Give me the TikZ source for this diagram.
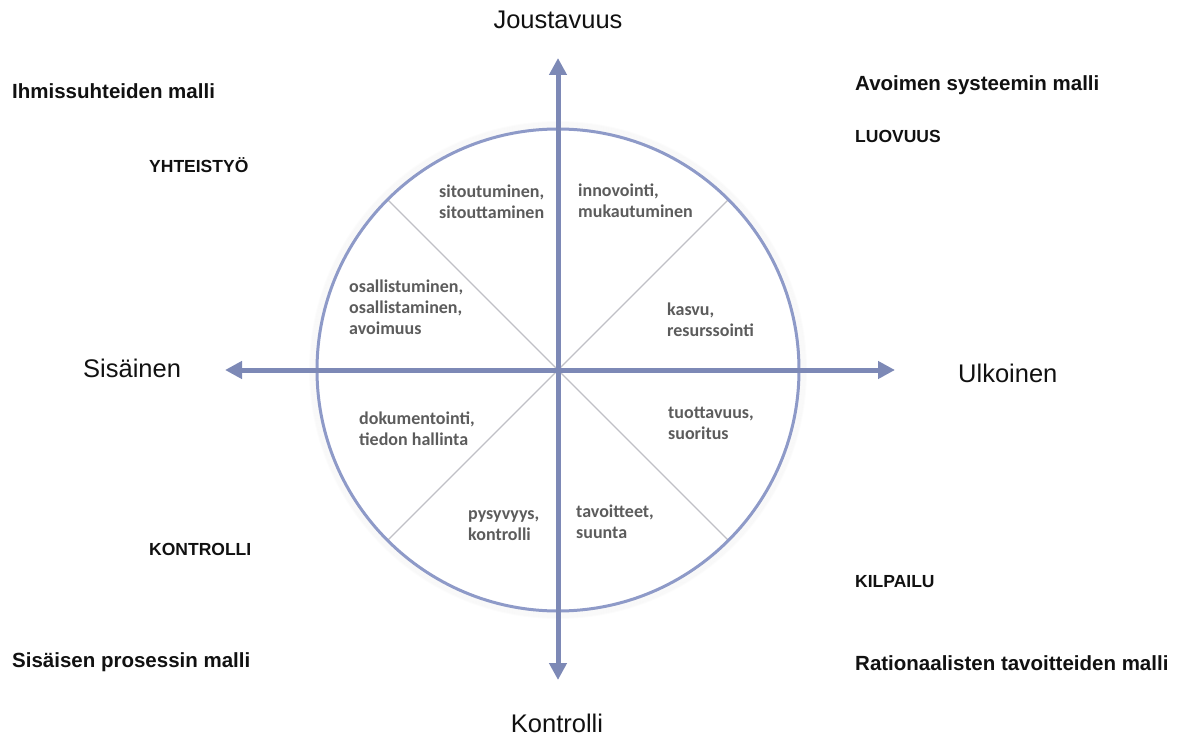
\documentclass[tikz,border=0pt]{standalone}
\usepackage{fontspec}
\setmainfont{Liberation Sans}
\newfontfamily\cellfont{Carlito}
\usetikzlibrary{arrows.meta}
\definecolor{axisblue}{RGB}{125,137,182}
\definecolor{rimblue}{RGB}{142,154,200}
\definecolor{spokegray}{RGB}{192,192,198}
\definecolor{celltext}{RGB}{92,92,92}
\definecolor{labeltext}{RGB}{17,17,17}

\begin{document}
\begin{tikzpicture}[x=1pt,y=-1pt,
  axislabel/.style={font=\fontsize{25.5}{30}\selectfont, text=labeltext, inner sep=0pt, anchor=base west},
  modellabel/.style={font=\fontsize{20.5}{24}\selectfont\bfseries, text=labeltext, inner sep=0pt, anchor=base west},
  valuelabel/.style={font=\fontsize{17.5}{21}\selectfont\bfseries, text=labeltext, inner sep=0pt, anchor=base west},
  cell/.style={font=\cellfont\fontsize{18}{21.3}\selectfont\bfseries, text=celltext, align=left, inner sep=0pt, anchor=north west},
  axisline/.style={line width=5pt, draw=axisblue, -{Triangle[length=17pt,width=17pt]}},
  spoke/.style={draw=spokegray, line width=1.2pt},
]
\useasboundingbox (0,0) rectangle (1186,735);

% centre of the wheel and the ends of the axes
\coordinate (O) at (558,370);
\coordinate (topend) at (558,58);
\coordinate (bottomend) at (558,680);
\coordinate (leftend) at (225,370);
\coordinate (rightend) at (895,370);

% soft shadow round the rim
\foreach \k in {1,...,7}
  \draw[black, opacity=0.012, line width=2pt] (O) circle[radius={241pt+\k pt}];
\fill[white] (O) circle[radius=241pt];

% spokes dividing the wheel into eight sectors
\foreach \a in {45,135,225,315}
  \draw[spoke] (O) -- ++(\a:241pt) coordinate (spoke\a);

% rim
\draw[rimblue, line width=3pt] (O) circle[radius=241pt];

% axes
\draw[axisline] (O) -- (topend);
\draw[axisline] (O) -- (bottomend);
\draw[axisline] (O) -- (leftend);
\draw[axisline] (O) -- (rightend);

% axis names
\node[axislabel, anchor=base] (joustavuus) at (558,29) {Joustavuus};
\node[axislabel, anchor=base] (kontrolli) at (557,732) {Kontrolli};
\node[axislabel] (sisainen) at (83,377) {Sisäinen};
\node[axislabel] (ulkoinen) at (958,382) {Ulkoinen};

% model names
\node[modellabel] (ihmis) at (12,99) {Ihmissuhteiden malli};
\node[modellabel] (avoin) at (855,91) {Avoimen systeemin malli};
\node[modellabel] (sisprosessi) at (12,667) {Sisäisen prosessin malli};
\node[modellabel] (rationaali) at (855,670) {Rationaalisten tavoitteiden malli};

% values of the quadrants
\node[valuelabel] (yhteistyo) at (149,173) {YHTEISTYÖ};
\node[valuelabel] (luovuus) at (855,143) {LUOVUUS};
\node[valuelabel] (kontrolliarvo) at (149,555) {KONTROLLI};
\node[valuelabel] (kilpailu) at (855,587) {KILPAILU};

% sector texts
\node[cell] (sitoutuminen) at (439,182) {\strut sitoutuminen,\\sitouttaminen};
\node[cell] (innovointi) at (578,181) {\strut innovointi,\\mukautuminen};
\node[cell] (osallistuminen) at (349,277) {\strut osallistuminen,\\osallistaminen,\\avoimuus};
\node[cell] (kasvu) at (667,300) {\strut kasvu,\\resurssointi};
\node[cell] (dokumentointi) at (359,409) {\strut dokumentointi,\\tiedon hallinta};
\node[cell] (tuottavuus) at (668,403) {\strut tuottavuus,\\suoritus};
\node[cell] (pysyvyys) at (468,504) {\strut pysyvyys,\\kontrolli};
\node[cell] (tavoitteet) at (576,502) {\strut tavoitteet,\\suunta};
\end{tikzpicture}
\end{document}
